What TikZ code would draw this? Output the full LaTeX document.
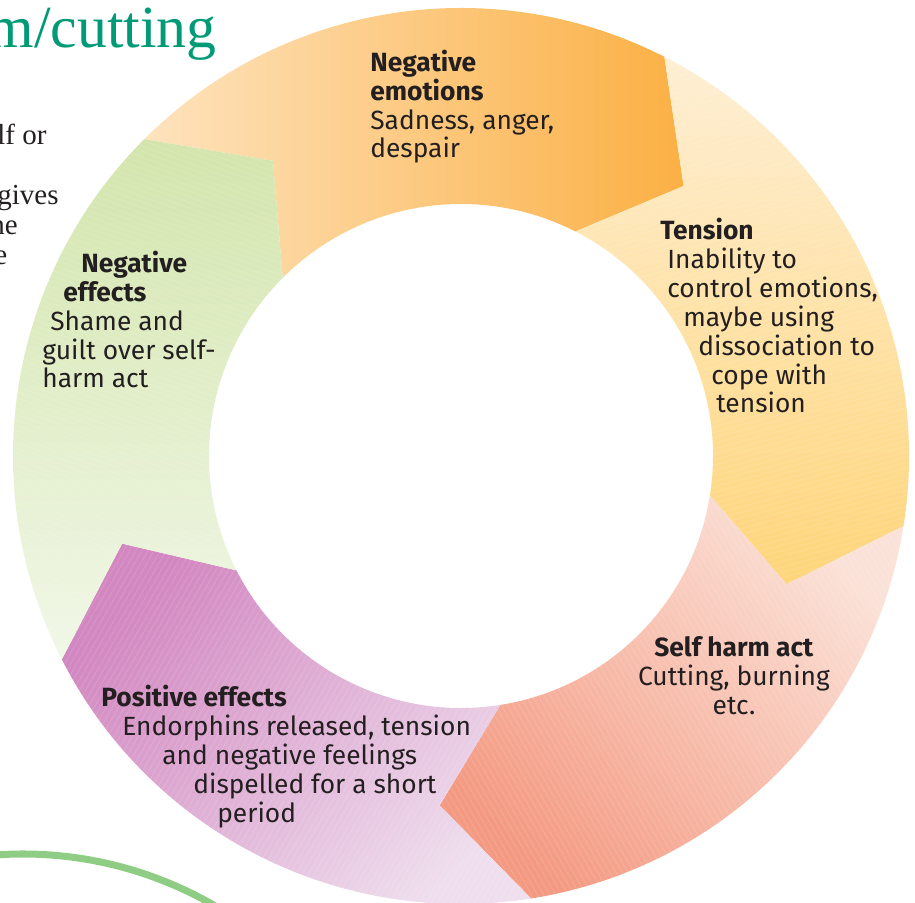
\documentclass[tikz,border=0pt]{standalone}
\usepackage{fontspec}
\setmainfont{Fira Sans}
\newfontfamily\introfont{Liberation Serif}
\usepackage{tikz}
\usetikzlibrary{positioning, patterns.meta}

\definecolor{emoLight}{HTML}{FEE3BE}
\definecolor{emoDark}{HTML}{FBB044}
\definecolor{tenLight}{HTML}{FEEFD4}
\definecolor{tenDark}{HTML}{FED57A}
\definecolor{harmLight}{HTML}{FBE2D8}
\definecolor{harmDark}{HTML}{F49A82}
\definecolor{posDark}{HTML}{D287C0}
\definecolor{posLight}{HTML}{EFDFEE}
\definecolor{effDark}{HTML}{D3E5AC}
\definecolor{effLight}{HTML}{F1F7E7}
\definecolor{titleGreen}{HTML}{009B76}
\definecolor{arcGreen}{HTML}{8FCD84}
\definecolor{ink}{HTML}{231F20}

% one arrow shaped piece of the ring, starting at angle #1, 72 degrees long
\newcommand{\segpath}[1]{(#1:448) arc[start angle=#1, end angle=#1-72, radius=448]
  -- (#1-84.5:350) -- (#1-72:252) arc[start angle=#1-72, end angle=#1, radius=252]
  -- (#1-12.5:350) -- cycle}

\begin{document}
\begin{tikzpicture}
  [
    x=0.02cm, y=0.02cm,
    Label/.style={inner sep=0pt, text=ink, align=left, font=\fontsize{15}{16.5}\selectfont},
    Intro/.style={inner sep=0pt, text=ink, anchor=base west, font=\introfont\fontsize{16.5}{18}\selectfont},
    Hatch/.style={pattern={Lines[angle=#1, distance=3pt, line width=0.4pt]}, pattern color=white, opacity=0.15}
  ]
  \useasboundingbox (-461, -446) rectangle (454, 456);

  % Ring
  \shade[left color=emoLight, right color=emoDark] \segpath{135};
  \shade[top color=tenLight, bottom color=tenDark] \segpath{63};
  \shade[top color=harmLight, bottom color=harmDark, shading angle=-45] \segpath{-9};
  \shade[top color=posDark, bottom color=posLight, shading angle=45] \segpath{-81};
  \shade[top color=effDark, bottom color=effLight] \segpath{-153};

  \path[Hatch=15] \segpath{63};
  \path[Hatch=-60] \segpath{-9};
  \path[Hatch=60] \segpath{-81};
  \path[Hatch=-20] \segpath{-153};

  % Nodes (placed by the baseline of their last line)
  \node[Label, anchor=base west] (emotions) at (-91, 298)
    {\textbf{Negative}\\\textbf{emotions}\\Sadness, anger,\\despair};

  \node[Label, anchor=base west] (tension) at (199, 43)
    {\textbf{Tension}\\\hspace*{1.4mm}Inability to\\\hspace*{1.4mm}control emotions,\\
     \hspace*{4.6mm}maybe using\\\hspace*{7.6mm}dissociation to\\
     \hspace*{10.2mm}cope with\\\hspace*{11.2mm}tension};

  \node[Label, align=center, anchor=base] (harm) at (273, -258)
    {\textbf{Self harm act}\\Cutting, burning\\etc.};

  \node[Label, anchor=base west] (positive) at (-360, -366)
    {\textbf{Positive effects}\\\hspace*{4.2mm}Endorphins released, tension\\
     \hspace*{12.2mm}and negative feelings\\\hspace*{18.4mm}dispelled for a short\\
     \hspace*{23.2mm}period};

  \node[Label, anchor=base west] (effects) at (-419, 68)
    {\hspace*{7.8mm}\textbf{Negative}\\\hspace*{4.2mm}\textbf{effects}\\
     \hspace*{1.6mm}Shame and\\guilt over self-\\harm act};

  % Page around the ring
  \node[anchor=base east, inner sep=0pt, text=titleGreen,
    font=\introfont\fontsize{34}{38}\selectfont] (title) at (-244, 408) {m/cutting};
  \node[Intro] (introa) at (-464, 311) {lf or};
  \node[Intro] (introb) at (-464, 251) {gives};
  \node[Intro] (introc) at (-471, 221) {ne};
  \node[Intro] (introd) at (-467, 191) {e};

  \draw[arcGreen, line width=4pt] (-438, -779) ++(105:381)
    arc[start angle=105, end angle=45, radius=381];

\end{tikzpicture}
\end{document}
